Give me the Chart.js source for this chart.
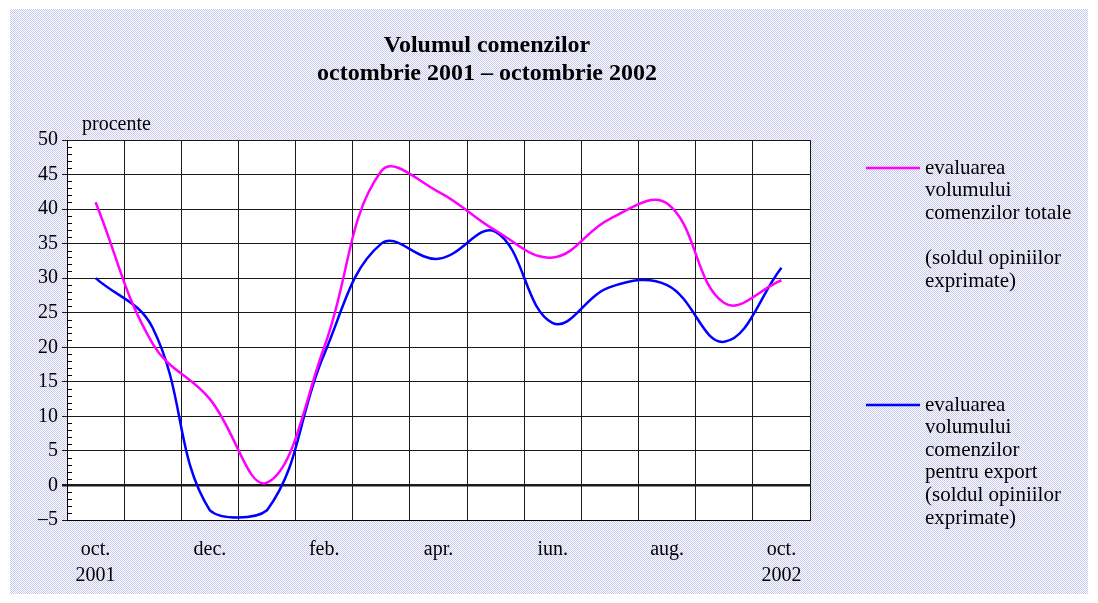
<!DOCTYPE html>
<html>
<head>
<meta charset="utf-8">
<script src="https://cdn.jsdelivr.net/npm/chart.js@4.4.0/dist/chart.umd.min.js"></script>
<style>
  html, body { margin: 0; padding: 0; background: #fff; }
  #wrap { width: 1098px; height: 603px; }
</style>
</head>
<body>
<div id="wrap"><canvas id="chart" width="1098" height="603"></canvas></div>
<script>
// data, one value per month
const months = ['oct.', 'nov.', 'dec.', 'ian.', 'feb.', 'mar.', 'apr.', 'mai', 'iun.', 'iul.', 'aug.', 'sep.', 'oct.'];
const years = ['2001', '', '', '', '', '', '', '', '', '', '', '', '2002'];
const totalOrders = [41, 20.5, 12.5, 0.4, 20, 45.5, 42.5, 36.9, 33, 38.6, 40.8, 26.4, 29.7];
const exportOrders = [30, 22.8, -3.6, -3.6, 19, 35, 32.8, 36.7, 23.5, 28.7, 29, 20.8, 31.5];
const yMin = -5, yMax = 50, yStep = 5;
const titleLines = ['Volumul comenzilor', 'octombrie 2001 \u2013 octombrie 2002'];
const yUnit = 'procente';
const legendTotal = ['evaluarea', 'volumului', 'comenzilor totale', '', '(soldul opiniilor', 'exprimate)'];
const legendExport = ['evaluarea', 'volumului', 'comenzilor', 'pentru export', '(soldul opiniilor', 'exprimate)'];

const serif = "'Liberation Serif', 'Times New Roman', serif";

// dotted lavender page background
const pat = document.createElement('canvas');
pat.width = 2; pat.height = 2;
const pctx = pat.getContext('2d');
pctx.fillStyle = '#ffffff';
pctx.fillRect(0, 0, 2, 2);
pctx.fillStyle = '#c6c9f0';
pctx.fillRect(0, 0, 1, 1);
pctx.fillRect(1, 1, 1, 1);

const decor = {
  id: 'decor',
  beforeDraw(chart) {
    const c = chart.ctx;
    const a = chart.chartArea;
    c.save();
    c.fillStyle = '#fff';
    c.fillRect(0, 0, chart.width, chart.height);
    c.fillStyle = c.createPattern(pat, 'repeat');
    c.fillRect(10, 9, chart.width - 20, chart.height - 18);
    c.fillStyle = '#fff';
    c.fillRect(a.left, a.top, a.right - a.left, a.bottom - a.top);
    c.restore();
  },
  afterDraw(chart) {
    const c = chart.ctx;
    const a = chart.chartArea;
    const y = chart.scales.y;
    c.save();
    // minor ticks inside the value axis
    c.strokeStyle = '#000';
    c.lineWidth = 1;
    c.beginPath();
    for (let v = yMin; v <= yMax; v++) {
      if (v % yStep === 0) continue;
      const py = Math.round(y.getPixelForValue(v)) + 0.5;
      c.moveTo(a.left, py);
      c.lineTo(a.left + 5, py);
    }
    c.stroke();

    // title
    c.fillStyle = '#000';
    c.textAlign = 'center';
    c.textBaseline = 'middle';
    c.font = 'bold 24px ' + serif;
    c.fillText(titleLines[0], 487, 46);
    c.fillText(titleLines[1], 487, 74);

    // unit label
    c.textAlign = 'left';
    c.font = '20px ' + serif;
    c.fillText(yUnit, 82, 125);

    // legend
    const blocks = [
      { lines: legendTotal, color: chart.data.datasets[0].borderColor, top: 168 },
      { lines: legendExport, color: chart.data.datasets[1].borderColor, top: 405 }
    ];
    c.font = '21px ' + serif;
    blocks.forEach(b => {
      c.strokeStyle = b.color;
      c.lineWidth = 2.5;
      c.beginPath();
      c.moveTo(866, b.top);
      c.lineTo(920, b.top);
      c.stroke();
      b.lines.forEach((t, i) => c.fillText(t, 925, b.top + i * 22.6));
    });
    c.restore();
  }
};

const ctx = document.getElementById('chart').getContext('2d');
const myChart = new Chart(ctx, {
  type: 'line',
  data: {
    labels: months,
    datasets: [
      {
        label: 'evaluarea volumului comenzilor totale',
        data: totalOrders,
        borderColor: '#ff00ff',
        borderWidth: 2.5,
        pointRadius: 0,
        tension: 0.4,
        fill: false
      },
      {
        label: 'evaluarea volumului comenzilor pentru export',
        data: exportOrders,
        borderColor: '#0000ff',
        borderWidth: 2.5,
        pointRadius: 0,
        tension: 0.4,
        fill: false
      }
    ]
  },
  options: {
    responsive: false,
    animation: false,
    devicePixelRatio: 1,
    layout: { padding: { top: 140, right: 288, left: 0, bottom: 0 } },
    plugins: {
      legend: { display: false },
      title: { display: false },
      tooltip: { enabled: false }
    },
    scales: {
      x: {
        type: 'category',
        offset: true,
        grid: { offset: true, color: '#1a1a1a', lineWidth: 1, drawTicks: false },
        border: { display: true, color: '#000', width: 1 },
        ticks: {
          autoSkip: false,
          maxRotation: 0,
          padding: 17,
          color: '#000',
          font: { family: serif, size: 20, lineHeight: 1.3 },
          callback: (v, i) => {
            if (i % 2) return '';
            return years[i] ? [months[i], years[i]] : months[i];
          }
        },
        afterFit: s => { s.height = 83; }
      },
      y: {
        min: yMin,
        max: yMax,
        ticks: {
          stepSize: yStep,
          padding: 4,
          color: '#000',
          font: { family: serif, size: 20 },
          callback: v => v < 0 ? '\u2013' + Math.abs(v) : String(v)
        },
        grid: {
          color: '#1a1a1a',
          lineWidth: c => c.tick && c.tick.value === 0 ? 2.5 : 1,
          tickLength: 5
        },
        border: { display: true, color: '#000', width: 1 },
        afterFit: s => { s.width = 67; }
      }
    }
  },
  plugins: [decor]
});
</script>
</body>
</html>
